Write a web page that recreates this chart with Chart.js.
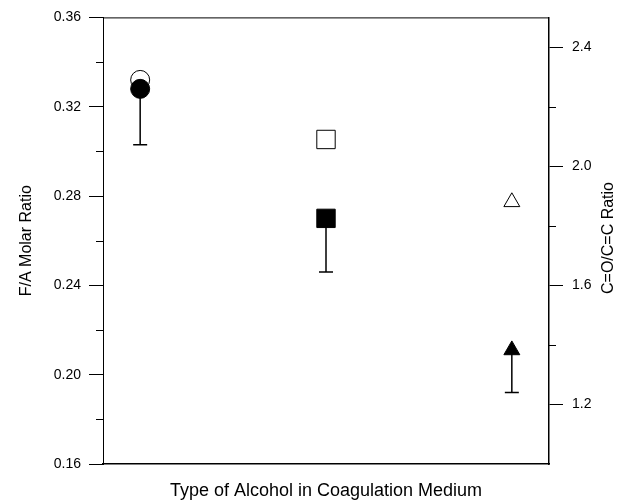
<!DOCTYPE html>
<html>
<head>
<meta charset="utf-8">
<script src="https://cdn.jsdelivr.net/npm/chart.js"></script>
<style>
  html, body { margin: 0; padding: 0; background: #fff; }
  canvas { display: block; }
</style>
</head>
<body>
<canvas id="chart" width="619" height="504"></canvas>
<script>
// position of each alcohol along the x axis (no labels in the original)
const alcohols = [1, 2, 3];
// F/A molar ratio, filled markers, left axis, with lower error limit
const faRatio = [0.328, 0.270, 0.211];
const faLower = [0.303, 0.246, 0.192];
// C=O/C=C ratio, open markers, right axis
const coRatio = [2.29, 2.09, 1.88];

const markerShapes = ['circle', 'rect', 'triangle'];
const markerSizes = [9.5, 13, 9.2];

const leftTicks = [0.16, 0.20, 0.24, 0.28, 0.32, 0.36];
const leftMinor = [0.18, 0.22, 0.26, 0.30, 0.34];
const rightTicks = [1.2, 1.6, 2.0, 2.4];
const rightMinor = [1.4, 1.8, 2.2];

const FONT = "'Liberation Sans', Arial, sans-serif";

// error bars under the filled markers, frame top, minor ticks, right title
const extras = {
    id: 'extras',
    beforeDatasetsDraw(chart) {
        const ctx = chart.ctx;
        const x = chart.scales.x;
        const y = chart.scales.y;
        ctx.save();
        ctx.strokeStyle = '#000';
        ctx.lineWidth = 1.5;
        faRatio.forEach((v, i) => {
            const px = x.getPixelForValue(alcohols[i]);
            const top = y.getPixelForValue(v);
            const bot = y.getPixelForValue(faLower[i]);
            ctx.beginPath();
            ctx.moveTo(px, top);
            ctx.lineTo(px, bot);
            ctx.moveTo(px - 7, bot);
            ctx.lineTo(px + 7, bot);
            ctx.stroke();
        });
        ctx.restore();
    },
    afterDraw(chart) {
        const ctx = chart.ctx;
        const area = chart.chartArea;
        const y = chart.scales.y;
        const y2 = chart.scales.y2;
        ctx.save();
        ctx.strokeStyle = '#000';
        ctx.lineWidth = 1;
        ctx.beginPath();
        ctx.moveTo(area.left, area.top + 0.5);
        ctx.lineTo(area.right, area.top + 0.5);
        leftMinor.forEach(v => {
            const py = Math.round(y.getPixelForValue(v)) + 0.5;
            ctx.moveTo(area.left - 7, py);
            ctx.lineTo(area.left, py);
        });
        rightMinor.forEach(v => {
            const py = Math.round(y2.getPixelForValue(v)) + 0.5;
            ctx.moveTo(area.right, py);
            ctx.lineTo(area.right + 7, py);
        });
        ctx.stroke();

        ctx.fillStyle = '#000';
        ctx.font = '16px ' + FONT;
        ctx.textAlign = 'center';
        ctx.textBaseline = 'middle';
        ctx.translate(609, 238);
        ctx.rotate(-Math.PI / 2);
        ctx.fillText('C=O/C=C Ratio', 0, 0);
        ctx.restore();
    }
};

new Chart(document.getElementById('chart'), {
    type: 'scatter',
    data: {
        datasets: [
            {
                label: 'F/A Molar Ratio',
                data: alcohols.map((a, i) => ({ x: a, y: faRatio[i] })),
                yAxisID: 'y',
                pointStyle: markerShapes,
                pointRadius: markerSizes,
                backgroundColor: '#000',
                borderColor: '#000',
                borderWidth: 1
            },
            {
                label: 'C=O/C=C Ratio',
                data: alcohols.map((a, i) => ({ x: a, y: coRatio[i] })),
                yAxisID: 'y2',
                pointStyle: markerShapes,
                pointRadius: markerSizes,
                backgroundColor: '#fff',
                borderColor: '#000',
                borderWidth: 1
            }
        ]
    },
    options: {
        responsive: false,
        animation: false,
        layout: { padding: { top: 16, left: 0, right: 0, bottom: 0 } },
        plugins: {
            legend: { display: false },
            tooltip: { enabled: false }
        },
        scales: {
            x: {
                type: 'linear',
                min: 0.8,
                max: 3.2,
                ticks: { display: false },
                grid: { display: false },
                border: { display: true, color: '#000', width: 1.5 },
                title: {
                    display: true,
                    text: 'Type of Alcohol in Coagulation Medium',
                    color: '#000',
                    font: { family: FONT, size: 18 },
                    padding: { top: 0, bottom: 2 }
                },
                afterFit(scale) { scale.height = 40; }
            },
            y: {
                position: 'left',
                min: 0.16,
                max: 0.36,
                afterBuildTicks(axis) { axis.ticks = leftTicks.map(v => ({ value: v })); },
                ticks: {
                    color: '#000',
                    padding: 8,
                    font: { family: FONT, size: 14 },
                    callback: v => v.toFixed(2)
                },
                grid: { drawOnChartArea: false, drawTicks: true, tickLength: 14, color: '#000' },
                border: { display: true, color: '#000', width: 1 },
                title: {
                    display: true,
                    text: 'F/A Molar Ratio',
                    color: '#000',
                    font: { family: FONT, size: 16 },
                    padding: { top: 17, bottom: 0 }
                },
                afterFit(scale) { scale.width = 103; }
            },
            y2: {
                position: 'right',
                min: 1.0,
                max: 2.5,
                afterBuildTicks(axis) { axis.ticks = rightTicks.map(v => ({ value: v })); },
                ticks: {
                    color: '#000',
                    padding: 9,
                    font: { family: FONT, size: 14 },
                    callback: v => v.toFixed(1)
                },
                grid: { drawOnChartArea: false, drawTicks: true, tickLength: 14, color: '#000' },
                border: { display: true, color: '#000', width: 1.5 },
                afterFit(scale) { scale.width = 70; }
            }
        }
    },
    plugins: [extras]
});
</script>
</body>
</html>
